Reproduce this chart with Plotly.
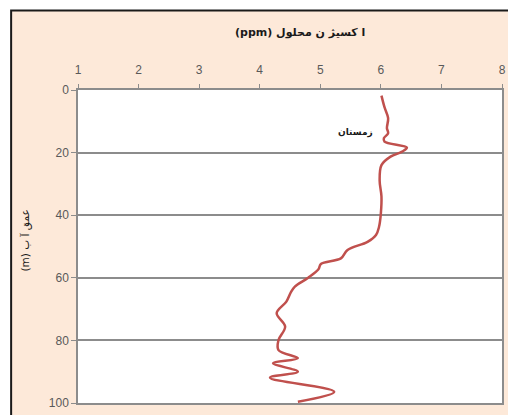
import plotly.graph_objects as go

# Dissolved oxygen profile (winter), depth in metres
depth_m = [1.8, 5.5, 9.0, 12.2, 13.8, 15.4, 16.5, 18.4, 19.7, 21.3, 24.0, 29.0, 34.0,
           39.4, 43.7, 46.3, 48.5, 51.1, 53.8, 55.6, 57.3, 60.0, 62.8, 64.4, 67.6,
           71.3, 75.6, 79.9, 83.1, 85.7, 87.3, 90.0, 91.9, 96.4, 99.6]
oxygen_ppm = [6.01, 6.06, 6.12, 6.10, 6.12, 6.05, 6.06, 6.43, 6.35, 6.16, 6.01, 5.98, 6.01,
              6.00, 5.97, 5.92, 5.78, 5.45, 5.34, 5.01, 4.97, 4.80, 4.58, 4.52, 4.44,
              4.28, 4.42, 4.31, 4.31, 4.63, 4.22, 4.63, 4.17, 5.23, 4.63]

x_ticks = [1, 2, 3, 4, 5, 6, 7, 8]
y_ticks = [0, 20, 40, 60, 80, 100]

x_title = "ا کسیژ ن محلول (ppm)"
y_title = "عمق آ ب (m)"
series_label = "زمستان"
label_pos = (5.58, 13.7)

W, H = 508, 415
ML, MR, MT, MB = 78, 2, 90, 12
pw, ph = W - ML - MR, H - MT - MB


def px_to_paper_x(px):
    return (px - ML) / pw


def px_to_paper_y(py):
    return (H - MB - py) / ph


def rtl(s):
    # right-to-left embedding so the Latin unit sits on the left
    return "\u202B" + s + "\u202C"


fig = go.Figure()
fig.add_trace(go.Scatter(
    x=oxygen_ppm, y=depth_m, mode="lines",
    line=dict(color="#c0504d", width=2.5, shape="spline", smoothing=1.0),
    hoverinfo="skip", showlegend=False,
))

axis_font = dict(family="Liberation Sans, Arial, sans-serif", size=12, color="#595959")

fig.update_layout(
    width=W, height=H,
    margin=dict(l=ML, r=MR, t=MT, b=MB),
    paper_bgcolor="white",
    plot_bgcolor="white",
    xaxis=dict(
        range=[1, 8], tickvals=x_ticks, side="top",
        showgrid=False, zeroline=False,
        showline=True, linecolor="#8c8c8c", linewidth=1.5, mirror=True,
        ticks="outside", ticklen=4, tickcolor="#8c8c8c",
        ticklabelstandoff=5,
        tickfont=axis_font,
    ),
    yaxis=dict(
        range=[100, 0], tickvals=y_ticks,
        showgrid=True, gridcolor="#8c8c8c", gridwidth=1.5, zeroline=False,
        showline=True, linecolor="#8c8c8c", linewidth=1.5, mirror=True,
        ticks="outside", ticklen=5, tickcolor="#8c8c8c",
        tickfont=axis_font,
    ),
    shapes=[
        # chart-area frame with peach fill
        dict(type="rect", xref="paper", yref="paper", layer="below",
             x0=px_to_paper_x(10.5), x1=px_to_paper_x(530),
             y0=px_to_paper_y(440), y1=px_to_paper_y(10.5),
             fillcolor="#fde9d9", line=dict(color="#1a1a1a", width=2)),
        # white plot area
        dict(type="rect", xref="paper", yref="paper", layer="below",
             x0=0, x1=1, y0=0, y1=1,
             fillcolor="white", line=dict(width=0)),
    ],
    annotations=[
        dict(text=f"<b>{rtl(x_title)}</b>", xref="paper", yref="paper",
             x=px_to_paper_x(302), y=px_to_paper_y(33), showarrow=False,
             font=dict(family="DejaVu Sans, sans-serif", size=11, color="#1a1a1a"),
             xanchor="center", yanchor="middle"),
        dict(text=rtl(y_title), xref="paper", yref="paper",
             x=px_to_paper_x(25), y=px_to_paper_y(240), showarrow=False,
             textangle=-90,
             font=dict(family="DejaVu Sans, sans-serif", size=10.5, color="#1a1a1a"),
             xanchor="center", yanchor="middle"),
        dict(text=f"<b>{series_label}</b>", x=label_pos[0], y=label_pos[1],
             xref="x", yref="y", showarrow=False,
             font=dict(family="DejaVu Sans, sans-serif", size=9, color="#1a1a1a"),
             xanchor="center", yanchor="middle"),
    ],
)

fig.write_html("out.html")
